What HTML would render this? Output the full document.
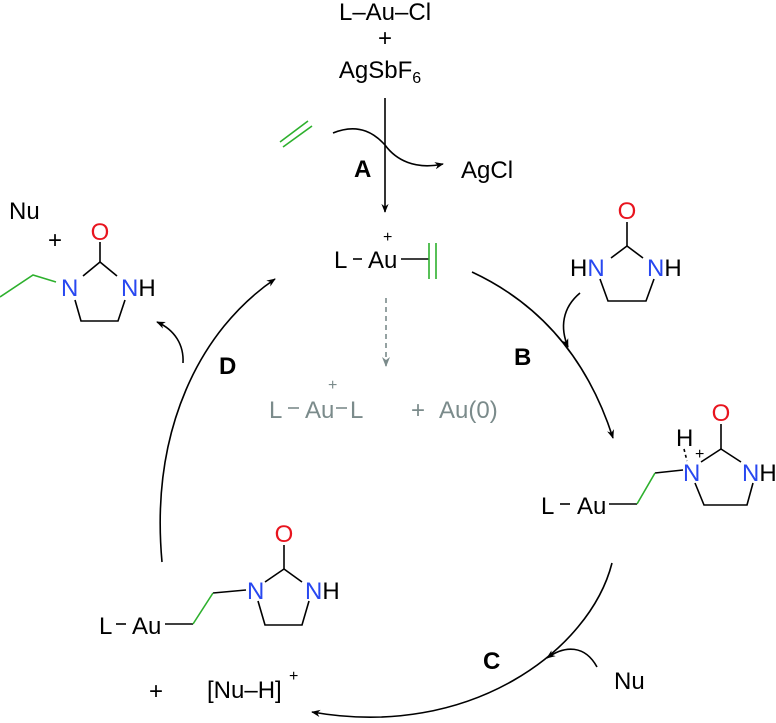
<!DOCTYPE html>
<html><head><meta charset="utf-8"><style>
html,body{margin:0;padding:0;background:#fff;}
svg{display:block;font-family:"Liberation Sans",Arial,sans-serif;}
</style></head><body>
<svg width="776" height="723" viewBox="0 0 776 723" xmlns="http://www.w3.org/2000/svg">
<defs>
<marker id="ah" viewBox="0 0 10 10" refX="9" refY="5" markerWidth="9" markerHeight="9" orient="auto" markerUnits="userSpaceOnUse"><path d="M0,1 L10,5 L0,9 L3,5 z" fill="#000"/></marker>
<marker id="ahg" viewBox="0 0 10 10" refX="9" refY="5" markerWidth="10" markerHeight="10" orient="auto" markerUnits="userSpaceOnUse"><path d="M0,1 L10,5 L0,9 L3,5 z" fill="#7b8b8b"/></marker>
</defs>
<g font-size="24" fill="#000">
<text x="385" y="20" text-anchor="middle">L–Au–Cl</text>
<text x="385" y="46" text-anchor="middle">+</text>
<text x="380" y="78" text-anchor="middle">AgSbF<tspan font-size="16" dy="5">6</tspan></text>
</g>
<g stroke="#000" stroke-width="1.6" fill="none">
<line x1="385" y1="98" x2="385" y2="212" marker-end="url(#ah)"/>
<path d="M333,133 C360,122 376,135 385,145 C396,160 415,170 443,164" marker-end="url(#ah)"/>
<path d="M472,272 Q575,320 613,438" marker-end="url(#ah)"/>
<path d="M612,563 C590,650 470,740 312,712" marker-end="url(#ah)"/>
<path d="M162,562 C150,430 200,330 275,279" marker-end="url(#ah)"/>
<path d="M580,293 C562,308 560,328 568,347" marker-end="url(#ah)"/>
<path d="M597,667 C585,645 565,645 547,658" marker-end="url(#ah)"/>
<path d="M183,363 C184,345 175,330 157,322" marker-end="url(#ah)"/>
</g>
<g stroke="#2db02d" stroke-width="1.6">
<line x1="280" y1="142" x2="308" y2="121"/>
<line x1="283" y1="147" x2="312" y2="126"/>
</g>
<g font-size="24" font-weight="bold"><text x="354" y="177">A</text><text x="514" y="365">B</text><text x="483" y="669">C</text><text x="219" y="374">D</text></g>
<text x="461" y="178" font-size="24">AgCl</text>

<!-- L-Au+ ethylene -->
<text x="334" y="268" font-size="24">L</text>
<line x1="353" y1="259" x2="362" y2="259" stroke="#000" stroke-width="1.6"/>
<text x="368" y="268" font-size="24">Au</text>
<text x="383" y="242" font-size="16">+</text>
<line x1="401" y1="259" x2="429" y2="259" stroke="#000" stroke-width="1.6"/>
<g stroke="#2db02d" stroke-width="1.6"><line x1="429" y1="243" x2="429" y2="279"/><line x1="436" y1="243" x2="436" y2="279"/></g>

<!-- gray decomposition -->
<line x1="386" y1="298" x2="386" y2="366" stroke="#7b8b8b" stroke-width="1.6" stroke-dasharray="5,4" marker-end="url(#ahg)"/>
<g fill="#7b8b8b" font-size="24">
<text x="269" y="418">L</text>
<text x="305" y="418">Au</text>
<text x="328" y="390" font-size="16">+</text>
<text x="350" y="418">L</text>
<text x="411" y="418">+</text>
<text x="439" y="418">Au(0)</text>
</g>
<g stroke="#7b8b8b" stroke-width="1.6"><line x1="288" y1="408" x2="299" y2="408"/><line x1="336" y1="408" x2="347" y2="408"/></g>

<!-- right-top imidazolidinone -->
<g stroke="#000" stroke-width="1.6" fill="none">
<line x1="627" y1="222" x2="627" y2="246"/>
<line x1="627" y1="246" x2="611" y2="258"/><line x1="627" y1="246" x2="643" y2="258"/>
<polyline points="600,279 608,301 646,301 654,279"/>
</g>
<text x="627" y="219" font-size="24" fill="#e8141e" text-anchor="middle">O</text>
<text x="570" y="276" font-size="24">H<tspan fill="#2848f0">N</tspan></text>
<text x="647" y="276" font-size="24"><tspan fill="#2848f0">N</tspan>H</text>

<!-- mid-right intermediate -->
<text x="541" y="514" font-size="24">L</text>
<line x1="560" y1="504" x2="570" y2="504" stroke="#000" stroke-width="1.6"/>
<text x="577" y="514" font-size="24">Au</text>
<g stroke="#000" stroke-width="1.6" fill="none">
<line x1="609" y1="504" x2="637" y2="504"/>
<line x1="655" y1="473" x2="683" y2="470"/>
<line x1="721" y1="424" x2="721" y2="449"/>
<line x1="721" y1="449" x2="701" y2="462"/><line x1="721" y1="449" x2="741" y2="462"/>
<polyline points="695,483 704,505 747,505 753,483"/>
<line x1="684" y1="449" x2="687" y2="461" stroke-dasharray="3,3"/>
</g>
<line x1="637" y1="504" x2="655" y2="473" stroke="#2db02d" stroke-width="1.6"/>
<text x="721" y="421" font-size="24" fill="#e8141e" text-anchor="middle">O</text>
<text x="676" y="446" font-size="24">H</text>
<text x="695" y="459" font-size="16">+</text>
<text x="683" y="481" font-size="24" fill="#2848f0">N</text>
<text x="742" y="481" font-size="24"><tspan fill="#2848f0">N</tspan>H</text>

<!-- Nu -->
<text x="614" y="689" font-size="24">Nu</text>
<text x="149" y="699" font-size="24">+</text>
<text x="207" y="698" font-size="24">[Nu–H]</text>
<text x="289" y="681" font-size="16">+</text>

<!-- bottom-left intermediate -->
<text x="99" y="634" font-size="24">L</text>
<line x1="116" y1="624" x2="126" y2="624" stroke="#000" stroke-width="1.6"/>
<text x="132" y="634" font-size="24">Au</text>
<g stroke="#000" stroke-width="1.6" fill="none">
<line x1="165" y1="624" x2="193" y2="624"/>
<line x1="213" y1="593" x2="246" y2="590"/>
<line x1="284" y1="545" x2="284" y2="569"/>
<line x1="284" y1="569" x2="265" y2="582"/><line x1="284" y1="569" x2="302" y2="582"/>
<polyline points="258,601 265,625 302,625 309,601"/>
</g>
<line x1="193" y1="624" x2="213" y2="593" stroke="#2db02d" stroke-width="1.6"/>
<text x="284" y="542" font-size="24" fill="#e8141e" text-anchor="middle">O</text>
<text x="247" y="599" font-size="24" fill="#2848f0">N</text>
<text x="305" y="599" font-size="24"><tspan fill="#2848f0">N</tspan>H</text>

<!-- top-left product -->
<text x="9" y="219" font-size="24">Nu</text>
<text x="48" y="248" font-size="24">+</text>
<g stroke="#000" stroke-width="1.6" fill="none">
<line x1="100" y1="242" x2="100" y2="262"/>
<line x1="100" y1="262" x2="83" y2="276"/><line x1="100" y1="262" x2="117" y2="276"/>
<polyline points="75,300 81,321 118,321 125,300"/>
</g>
<polyline points="0,297 33,275 56,282" stroke="#2db02d" stroke-width="1.6" fill="none"/>
<text x="100" y="240" font-size="24" fill="#e8141e" text-anchor="middle">O</text>
<text x="61" y="296" font-size="24" fill="#2848f0">N</text>
<text x="121" y="296" font-size="24"><tspan fill="#2848f0">N</tspan>H</text>
</svg>
</body></html>
